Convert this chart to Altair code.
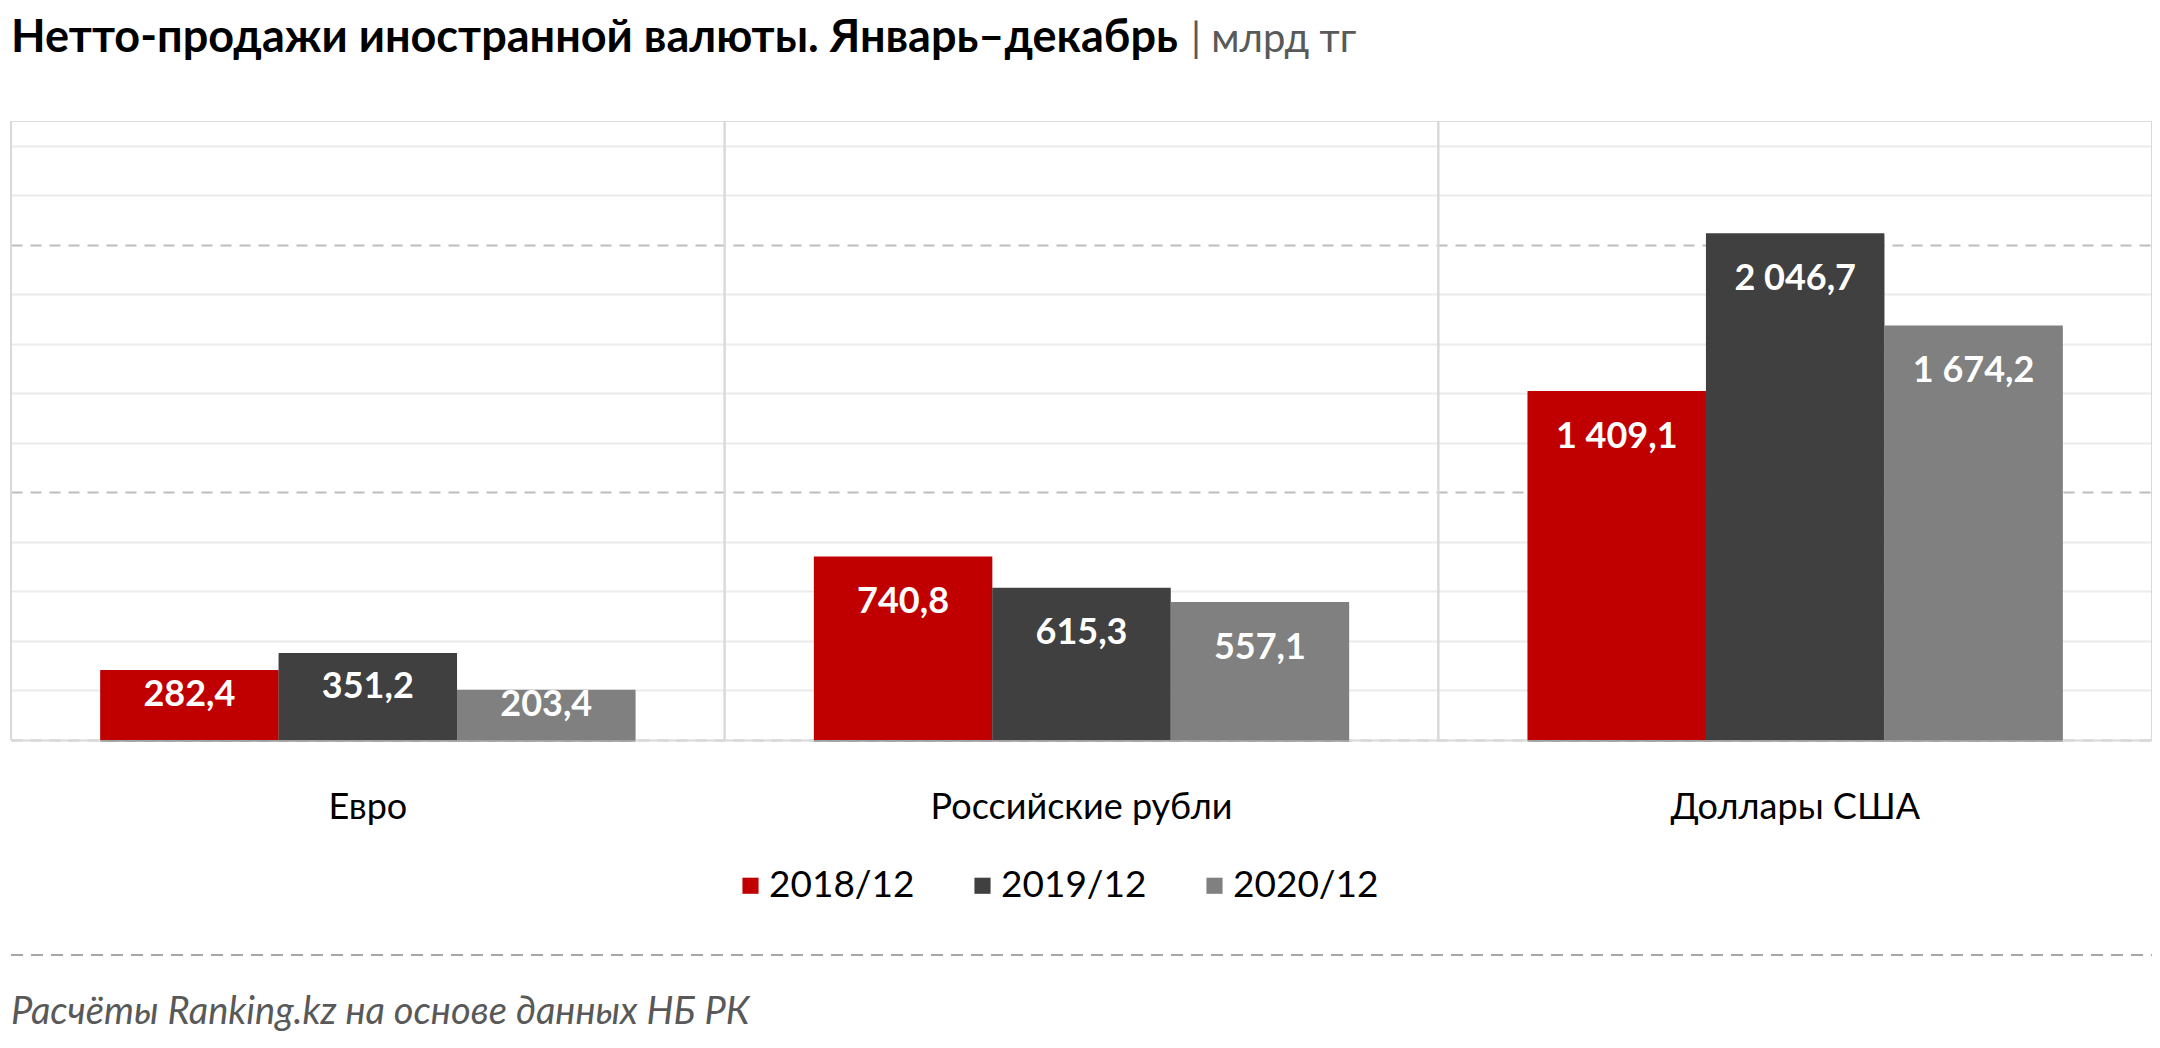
import pandas as pd
import altair as alt

# значения, млрд тг
currencies = ["Евро", "Российские рубли", "Доллары США"]
periods = ["2018/12", "2019/12", "2020/12"]
values_2018 = [282.4, 740.8, 1409.1]
values_2019 = [351.2, 615.3, 2046.7]
values_2020 = [203.4, 557.1, 1674.2]
colors = ["#C00000", "#404040", "#808080"]
y_ticks = list(range(0, 2501, 100))

title_text = "Нетто-продажи иностранной валюты. Январь–декабрь"
unit_text = "| млрд тг"
source_text = "Расчёты Ranking.kz на основе данных НБ РК"

FONT = "Lato"
W, H = 2141, 619


def fmt(v):
    # 1409.1 -> "1 409,1"
    return f"{v:,.1f}".replace(",", " ").replace(".", ",")


rows = []
for per, vals in zip(periods, [values_2018, values_2019, values_2020]):
    for cur, v in zip(currencies, vals):
        rows.append({"currency": cur, "period": per, "value": v, "label": fmt(v)})
df = pd.DataFrame(rows)

x_enc = alt.X(
    "currency:N",
    sort=currencies,
    scale=alt.Scale(paddingInner=0, paddingOuter=0),
    axis=alt.Axis(
        title=None, labelAngle=0, labelAlign="center", bandPosition=0.5, ticks=False,
        labelFont=FONT, labelFontSize=36, labelColor="#000000", labelPadding=50,
        labelLimit=0, domainColor="#d9d9d9", domainWidth=2,
    ),
)
xoff_enc = alt.XOffset("period:N", sort=periods, scale=alt.Scale(paddingInner=0, paddingOuter=0.5))
y_enc = alt.Y(
    "value:Q",
    scale=alt.Scale(domain=[0, 2500], nice=False),
    axis=alt.Axis(
        title=None, labels=False, ticks=False, domain=False, values=y_ticks,
        gridColor={"condition": {"test": "datum.value % 500 === 0", "value": "#bdbdbd"}, "value": "#ebebeb"},
        gridDash={"condition": {"test": "datum.value % 500 === 0", "value": [11, 8]}, "value": []},
        gridWidth=2,
    ),
)

base = alt.Chart(df).encode(x=x_enc, xOffset=xoff_enc, y=y_enc)

# мягкая тень справа от столбцов (рисуется под столбцами)
shadows = [
    base.mark_bar(color="#000000", opacity=0.09, xOffset=dx, yOffset=2)
    for dx in (3, 6, 9)
]

bars = base.mark_bar().encode(
    color=alt.Color(
        "period:N",
        sort=periods,
        scale=alt.Scale(domain=periods, range=colors),
        legend=alt.Legend(
            title=None, orient="none", legendX=721, legendY=746, direction="horizontal",
            symbolType="square", symbolSize=260, symbolStrokeWidth=0, labelFont=FONT,
            labelFontSize=37, labelColor="#000000", labelOffset=0, columnPadding=49,
            labelLimit=400,
        ),
    )
)

labels = base.mark_text(
    color="white", font=FONT, fontSize=36, fontWeight="bold", baseline="middle"
).transform_calculate(
    label_y="max(datum.value - 185, datum.value / 2 + 40)"
).encode(y=alt.Y("label_y:Q"), text="label:N")

sep_df = pd.DataFrame({"currency": currencies})
sep_start = alt.Chart(sep_df).mark_rule(color="#d9d9d9", strokeWidth=2).encode(
    x=alt.X("currency:N", sort=currencies, bandPosition=0)
)
sep_end = alt.Chart(sep_df).mark_rule(color="#d9d9d9", strokeWidth=2).encode(
    x=alt.X("currency:N", sort=currencies, bandPosition=1)
)

note_df = pd.DataFrame({"title": [title_text], "unit": [unit_text], "source": [source_text]})
title = alt.Chart(note_df).mark_text(
    font=FONT, fontSize=45, fontWeight="bold", color="#000000", align="left", baseline="alphabetic"
).encode(text="title:N", x=alt.value(0), y=alt.value(-69))
unit = alt.Chart(note_df).mark_text(
    font=FONT, fontSize=40, color="#595959", align="left", baseline="alphabetic"
).encode(text="unit:N", x=alt.value(1180), y=alt.value(-69))
divider = alt.Chart(note_df).mark_rule(color="#a6a6a6", strokeWidth=2, strokeDash=[12, 8]).encode(
    x=alt.value(0), x2=alt.value(2149), y=alt.value(834)
)
source = alt.Chart(note_df).mark_text(
    font=FONT, fontSize=38, fontStyle="italic", color="#595959", align="left", baseline="alphabetic"
).encode(text="source:N", x=alt.value(0), y=alt.value(903))

chart = (
    alt.layer(*shadows, bars, sep_start, sep_end, labels, title, unit, divider, source)
    .properties(
        width=W,
        height=H,
        autosize=alt.AutoSizeParams(type="none"),
        padding={"left": 3, "top": 113, "right": 0, "bottom": 300},
    )
    .configure_view(stroke=None)
    .configure(background="white")
)

chart.save("out.html", embed_options={"renderer": "svg", "actions": False})
